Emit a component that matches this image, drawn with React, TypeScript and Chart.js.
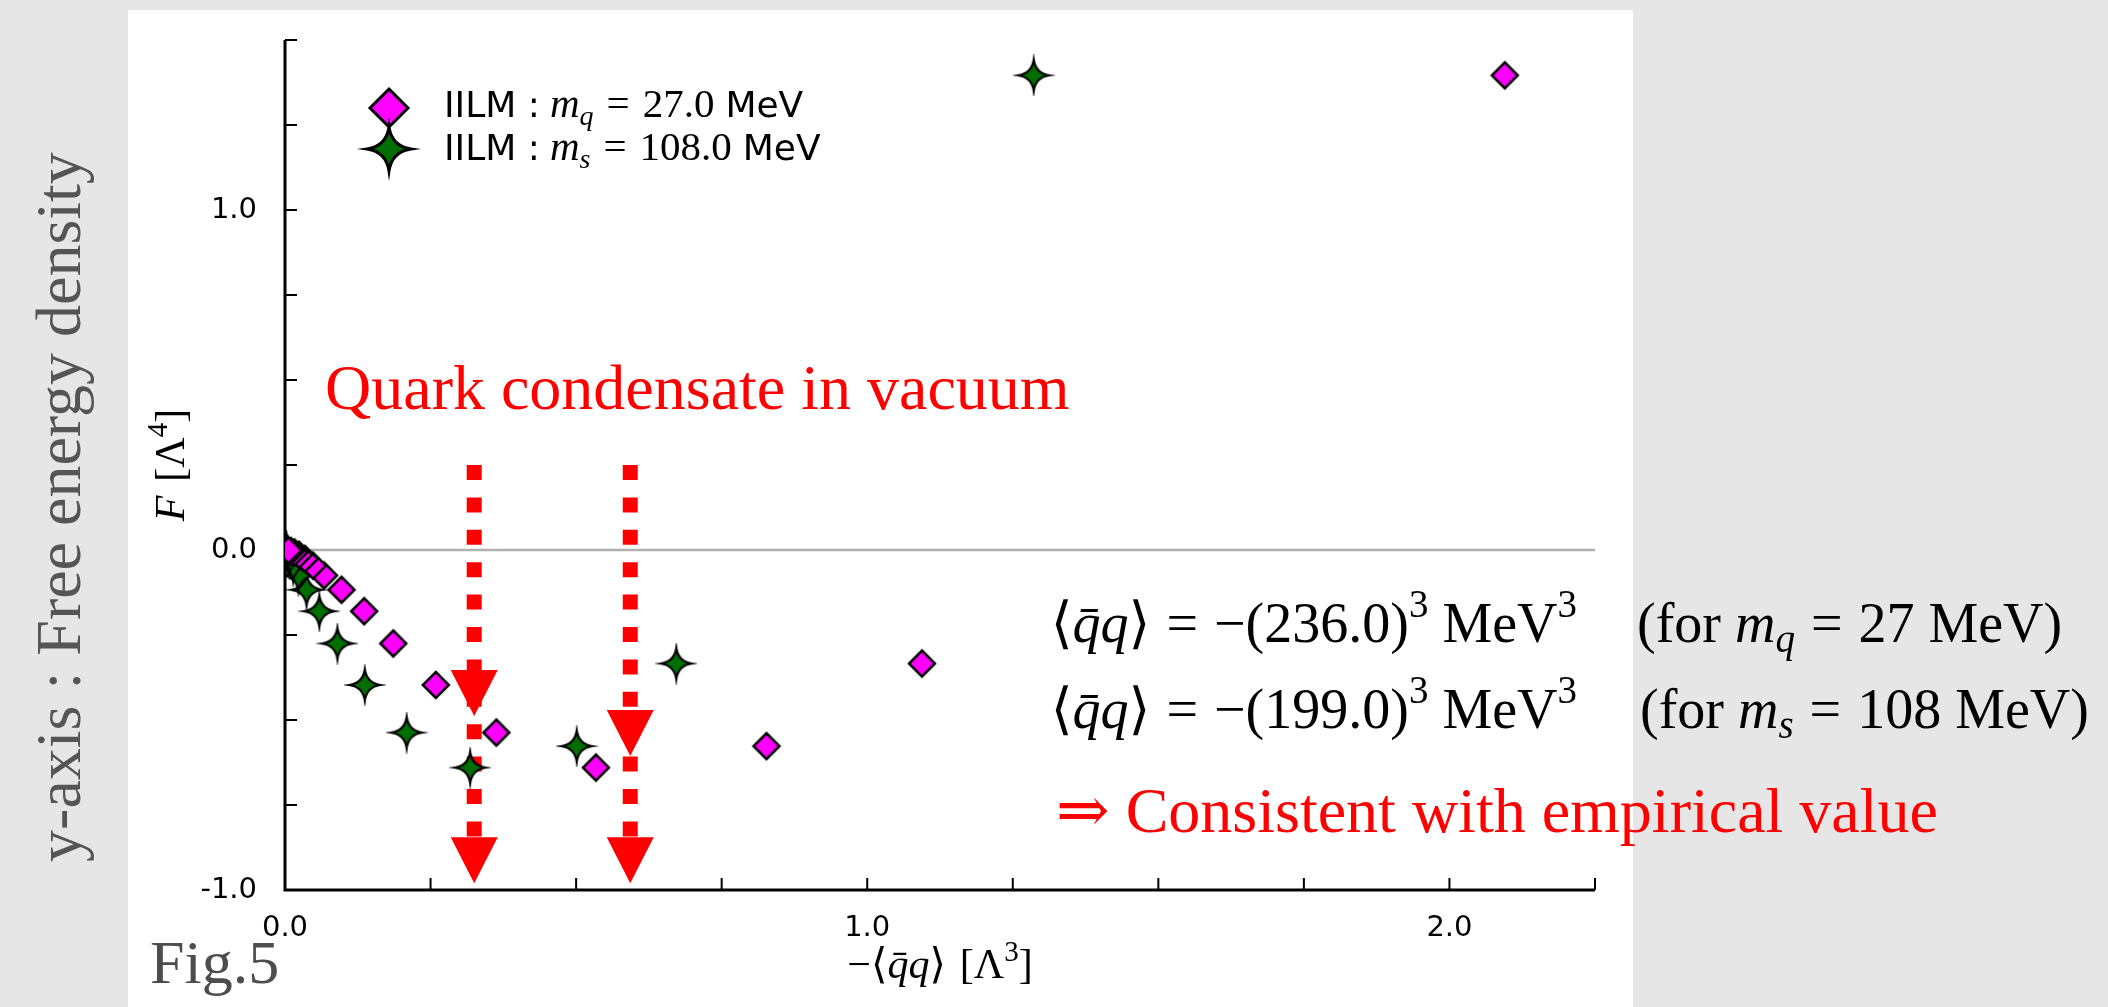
import React, { useEffect, useRef } from 'react';
import { Chart, registerables } from 'chart.js';

Chart.register(...registerables);

const W = 2108;
const H = 1007;

// ---------- data ----------
const quarkX = [2.095, 1.094, 0.827, 0.534, 0.363, 0.259, 0.186, 0.136, 0.097, 0.067, 0.048, 0.034, 0.024, 0.016, 0.010, 0.006];
const quarkF = [1.396, -0.334, -0.577, -0.640, -0.537, -0.397, -0.275, -0.180, -0.117, -0.075, -0.046, -0.026, -0.014, -0.007, -0.003, -0.001];
const strangeX = [1.286, 0.672, 0.501, 0.318, 0.209, 0.137, 0.090, 0.059, 0.037, 0.023, 0.014, 0.008, 0.005, 0.003, 0.002, 0.001];
const strangeF = [1.396, -0.334, -0.577, -0.640, -0.537, -0.397, -0.275, -0.180, -0.117, -0.075, -0.046, -0.026, -0.014, -0.007, -0.003, -0.001];

const xRange = [0, 2.25];
const yRange = [-1.0, 1.5];
const tickStep = 0.25;

// arrows (data coordinates)
const arrowX = [0.325, 0.593];
const arrowTopF = [0.25, 0.25];
const arrowHead1TipF = [-0.488, -0.606];
const arrowHead2TipF = [-0.98, -0.98];

const legendLabels = [
  { name: 'IILM :', sym: 'm', sub: 'q', val: '27.0', unit: 'MeV' },
  { name: 'IILM :', sym: 'm', sub: 's', val: '108.0', unit: 'MeV' },
];
const condensateValues = ['236.0', '199.0'];
const condensateMasses = [
  { sub: 'q', val: '27 MeV)' },
  { sub: 's', val: '108 MeV)' },
];

// ---------- styles ----------
const SERIF = "'Liberation Serif', 'DejaVu Serif', serif";
const SANS = "'DejaVu Sans', sans-serif";
const MAGENTA = '#ff00ff';
const GREEN = '#006e00';
const RED = '#ff0000';

type Run = { t: string; f: string; dy?: number; gap?: number };

function runsWidth(ctx: CanvasRenderingContext2D, runs: Run[]) {
  let w = 0;
  for (const r of runs) {
    ctx.font = r.f;
    w += (r.gap || 0) + ctx.measureText(r.t).width;
  }
  return w;
}

function drawRuns(ctx: CanvasRenderingContext2D, runs: Run[], x: number, y: number, color: string) {
  ctx.fillStyle = color;
  ctx.textAlign = 'left';
  ctx.textBaseline = 'alphabetic';
  let cx = x;
  for (const r of runs) {
    ctx.font = r.f;
    cx += r.gap || 0;
    ctx.fillText(r.t, cx, y + (r.dy || 0));
    cx += ctx.measureText(r.t).width;
  }
}

function diamondPath(ctx: CanvasRenderingContext2D, x: number, y: number, r: number) {
  ctx.beginPath();
  ctx.moveTo(x, y - r);
  ctx.lineTo(x + r, y);
  ctx.lineTo(x, y + r);
  ctx.lineTo(x - r, y);
  ctx.closePath();
}

function starPath(ctx: CanvasRenderingContext2D, x: number, y: number, R: number) {
  const k = R * 0.13;
  ctx.beginPath();
  ctx.moveTo(x, y - R);
  ctx.quadraticCurveTo(x + k, y - k, x + R, y);
  ctx.quadraticCurveTo(x + k, y + k, x, y + R);
  ctx.quadraticCurveTo(x - k, y + k, x - R, y);
  ctx.quadraticCurveTo(x - k, y - k, x, y - R);
  ctx.closePath();
}

function drawMarker(ctx: CanvasRenderingContext2D, kind: 'diamond' | 'star', x: number, y: number, r: number, lw: number) {
  if (kind === 'diamond') {
    diamondPath(ctx, x, y, r);
    ctx.fillStyle = MAGENTA;
  } else {
    starPath(ctx, x, y, r);
    ctx.fillStyle = GREEN;
  }
  ctx.fill();
  ctx.lineWidth = lw;
  ctx.strokeStyle = '#000';
  ctx.lineJoin = 'miter';
  ctx.stroke();
}

function makeMarkerCanvas(kind: 'diamond' | 'star', r: number, lw: number) {
  const c = document.createElement('canvas');
  const s = Math.ceil(2 * r + lw * 3 + 4);
  c.width = s;
  c.height = s;
  const g = c.getContext('2d')!;
  drawMarker(g, kind, s / 2, s / 2, r, lw);
  return c;
}

const decoPlugin = {
  id: 'deco',
  beforeDraw(chart: any) {
    const ctx = chart.ctx as CanvasRenderingContext2D;
    ctx.save();
    ctx.fillStyle = '#e6e6e6';
    ctx.fillRect(0, 0, W, H);
    ctx.fillStyle = '#ffffff';
    ctx.fillRect(128, 10, 1505, H - 10);
    ctx.restore();
  },
  beforeDatasetsDraw(chart: any) {
    const ctx = chart.ctx as CanvasRenderingContext2D;
    const xs = chart.scales.x;
    const ys = chart.scales.y;
    const x0 = xs.getPixelForValue(xRange[0]);
    const x1 = xs.getPixelForValue(xRange[1]);
    const yB = ys.getPixelForValue(yRange[0]);
    const yT = ys.getPixelForValue(yRange[1]);
    const yZ = ys.getPixelForValue(0);
    ctx.save();
    // zero line
    ctx.strokeStyle = '#b0b0b0';
    ctx.lineWidth = 2.5;
    ctx.beginPath();
    ctx.moveTo(x0, yZ);
    ctx.lineTo(x1, yZ);
    ctx.stroke();

    // ticks (inward)
    ctx.strokeStyle = '#000';
    ctx.lineWidth = 2;
    for (const t of xs.ticks) {
      if (Math.abs(t.value) < 1e-9) continue;
      const p = xs.getPixelForValue(t.value);
      ctx.beginPath();
      ctx.moveTo(p, yB);
      ctx.lineTo(p, yB - 12);
      ctx.stroke();
    }
    for (const t of ys.ticks) {
      if (Math.abs(t.value - yRange[0]) < 1e-9) continue;
      const p = ys.getPixelForValue(t.value);
      ctx.beginPath();
      ctx.moveTo(x0, p);
      ctx.lineTo(x0 + 12, p);
      ctx.stroke();
    }
    // axes
    ctx.lineWidth = 3;
    ctx.beginPath();
    ctx.moveTo(x0, yT);
    ctx.lineTo(x0, yB);
    ctx.lineTo(x1, yB);
    ctx.stroke();

    // arrows
    const headH = 46;
    const headHW = 23.5;
    for (let i = 0; i < arrowX.length; i++) {
      const ax = xs.getPixelForValue(arrowX[i]);
      const top = ys.getPixelForValue(arrowTopF[i]);
      const tip1 = ys.getPixelForValue(arrowHead1TipF[i]);
      const tip2 = ys.getPixelForValue(arrowHead2TipF[i]);
      ctx.strokeStyle = RED;
      ctx.lineWidth = 15;
      ctx.lineCap = 'butt';
      ctx.setLineDash([15, 17.4]);
      ctx.beginPath();
      ctx.moveTo(ax, top);
      ctx.lineTo(ax, tip2 - headH);
      ctx.stroke();
      ctx.setLineDash([]);
      ctx.fillStyle = RED;
      for (const tip of [tip1, tip2]) {
        ctx.beginPath();
        ctx.moveTo(ax - headHW, tip - headH);
        ctx.lineTo(ax + headHW, tip - headH);
        ctx.lineTo(ax, tip);
        ctx.closePath();
        ctx.fill();
      }
    }
    ctx.restore();
  },
  afterDraw(chart: any) {
    const ctx = chart.ctx as CanvasRenderingContext2D;
    const area = chart.chartArea;
    ctx.save();

    // axis titles
    const yTitle: Run[] = [
      { t: 'F', f: `italic 42px ${SERIF}` },
      { t: '[Λ', f: `42px ${SERIF}`, gap: 14 },
      { t: '4', f: `29px ${SERIF}`, dy: -17 },
      { t: ']', f: `42px ${SERIF}` },
    ];
    const wy = runsWidth(ctx, yTitle);
    ctx.save();
    ctx.translate(184, (area.top + area.bottom) / 2);
    ctx.rotate(-Math.PI / 2);
    drawRuns(ctx, yTitle, -wy / 2, 0, '#000');
    ctx.restore();

    const xTitle: Run[] = [
      { t: '−⟨', f: `42px ${SERIF}` },
      { t: 'q\u0304q', f: `italic 42px ${SERIF}` },
      { t: '⟩', f: `42px ${SERIF}` },
      { t: '[Λ', f: `42px ${SERIF}`, gap: 14 },
      { t: '3', f: `29px ${SERIF}`, dy: -17 },
      { t: ']', f: `42px ${SERIF}` },
    ];
    const wx = runsWidth(ctx, xTitle);
    drawRuns(ctx, xTitle, (area.left + area.right) / 2 - wx / 2, 978, '#000');

    // legend
    const kinds: ('diamond' | 'star')[] = ['diamond', 'star'];
    const legY = [108, 149];
    const legBase = [117, 160];
    for (let i = 0; i < legendLabels.length; i++) {
      const L = legendLabels[i];
      drawMarker(ctx, kinds[i], 389, legY[i], kinds[i] === 'diamond' ? 19 : 22, 3);
      drawRuns(
        ctx,
        [
          { t: L.name, f: `36px ${SANS}` },
          { t: L.sym, f: `italic 41px ${SERIF}`, gap: 10 },
          { t: L.sub, f: `italic 28px ${SERIF}`, dy: 8 },
          { t: '=', f: `41px ${SERIF}`, gap: 13 },
          { t: L.val, f: `41px ${SERIF}`, gap: 13 },
          { t: 'MeV', f: `36px ${SANS}`, gap: 11 },
        ],
        444,
        legBase[i],
        '#000'
      );
    }

    // annotations
    ctx.font = `64px ${SERIF}`;
    ctx.fillStyle = RED;
    ctx.textAlign = 'left';
    ctx.textBaseline = 'alphabetic';
    ctx.fillText('Quark condensate in vacuum', 325, 409);
    ctx.fillText('⇒ Consistent with empirical value', 1056, 832);

    const eqBase = [642, 728];
    const forX = [1637, 1640];
    for (let i = 0; i < condensateValues.length; i++) {
      const eq: Run[] = [
        { t: '⟨', f: `56px ${SERIF}` },
        { t: 'q\u0304q', f: `italic 56px ${SERIF}` },
        { t: '⟩', f: `56px ${SERIF}` },
        { t: '=', f: `56px ${SERIF}`, gap: 16 },
        { t: '−(' + condensateValues[i] + ')', f: `56px ${SERIF}`, gap: 16 },
        { t: '3', f: `39px ${SERIF}`, dy: -25 },
        { t: 'MeV', f: `56px ${SERIF}`, gap: 14 },
        { t: '3', f: `39px ${SERIF}`, dy: -25 },
      ];
      const we = runsWidth(ctx, eq);
      drawRuns(ctx, eq, 1577 - we, eqBase[i], '#000');
      drawRuns(
        ctx,
        [
          { t: '(for ', f: `56px ${SERIF}` },
          { t: 'm', f: `italic 56px ${SERIF}` },
          { t: condensateMasses[i].sub, f: `italic 39px ${SERIF}`, dy: 10 },
          { t: '=', f: `56px ${SERIF}`, gap: 16 },
          { t: condensateMasses[i].val, f: `56px ${SERIF}`, gap: 16 },
        ],
        forX[i],
        eqBase[i],
        '#000'
      );
    }

    // Fig.5
    ctx.font = `62px ${SERIF}`;
    ctx.fillStyle = '#4d4d4d';
    ctx.fillText('Fig.5', 150, 983);

    // side label
    ctx.save();
    ctx.font = `64px ${SERIF}`;
    ctx.fillStyle = '#555555';
    ctx.textAlign = 'center';
    ctx.translate(80, 507);
    ctx.rotate(-Math.PI / 2);
    ctx.fillText('y-axis : Free energy density', 0, 0);
    ctx.restore();

    ctx.restore();
  },
};

function tickLabel(v: any) {
  const n = Number(v);
  return Math.abs(n - Math.round(n)) < 1e-9 ? n.toFixed(1) : '';
}

export default function App() {
  const ref = useRef<HTMLCanvasElement>(null);
  useEffect(() => {
    const canvas = ref.current!;
    const diamondImg = makeMarkerCanvas('diamond', 13, 2.5);
    const starImg = makeMarkerCanvas('star', 15.5, 2.2);
    const clipLeft = { left: 0, top: false, right: false, bottom: false } as any;
    const chart = new Chart(canvas, {
      type: 'scatter',
      data: {
        datasets: [
          {
            label: 'IILM : m_q = 27.0 MeV',
            data: quarkX.map((x, i) => ({ x, y: quarkF[i] })),
            pointStyle: diamondImg as any,
            pointRadius: 14,
            clip: clipLeft,
          },
          {
            label: 'IILM : m_s = 108.0 MeV',
            data: strangeX.map((x, i) => ({ x, y: strangeF[i] })),
            pointStyle: starImg as any,
            pointRadius: 15,
            clip: clipLeft,
          },
        ],
      },
      options: {
        responsive: false,
        animation: false,
        devicePixelRatio: 1,
        layout: { padding: { left: 0, top: 40, right: 513, bottom: 0 } },
        plugins: { legend: { display: false }, tooltip: { enabled: false } },
        events: [],
        scales: {
          x: {
            type: 'linear',
            min: xRange[0],
            max: xRange[1],
            grid: { display: false },
            border: { display: false },
            ticks: {
              stepSize: tickStep,
              autoSkip: false,
              maxRotation: 0,
              padding: 13,
              color: '#000',
              font: { family: 'DejaVu Sans', size: 29 },
              callback: tickLabel,
            },
            afterFit: (s: any) => {
              s.height = 117;
            },
          },
          y: {
            type: 'linear',
            min: yRange[0],
            max: yRange[1],
            grid: { display: false },
            border: { display: false },
            ticks: {
              stepSize: tickStep,
              autoSkip: false,
              padding: 20,
              color: '#000',
              font: { family: 'DejaVu Sans', size: 29 },
              callback: tickLabel,
            },
            afterFit: (s: any) => {
              s.width = 285;
            },
          },
        },
      },
      plugins: [decoPlugin],
    });
    return () => chart.destroy();
  }, []);
  return (
    <div
      style={{
        position: 'fixed',
        left: 0,
        top: 0,
        width: W,
        height: H,
        overflow: 'hidden',
        background: '#e6e6e6',
      }}
    >
      <canvas ref={ref} width={W} height={H} style={{ display: 'block', width: W, height: H }} />
    </div>
  );
}
